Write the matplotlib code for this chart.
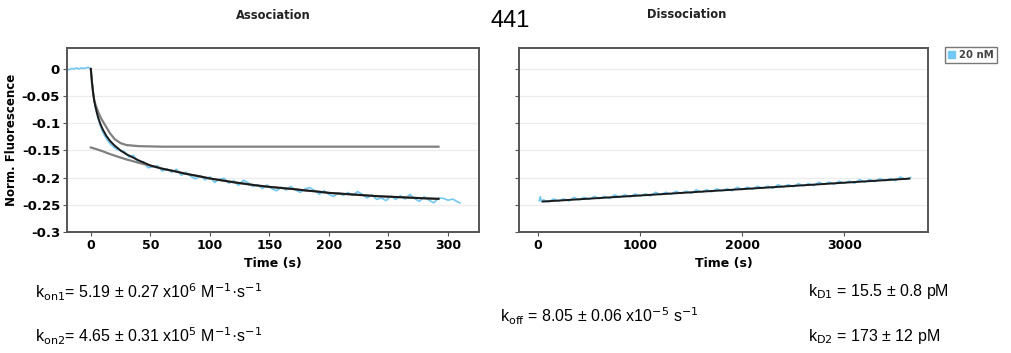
import matplotlib
matplotlib.use("Agg")
import matplotlib.pyplot as plt
from matplotlib.patches import Patch

# association: raw trace (20 nM)
assoc_t = [-20, -18, -16, -14, -12, -10, -8, -6, -4, -2, 0,
           1, 2, 3, 4, 5, 6, 7, 8, 9, 10, 12, 14, 16, 18, 20, 22, 24, 26,
           28, 32, 36, 40, 44, 48, 52, 56, 60, 64, 68, 72, 76, 80, 84, 88,
           92, 96, 100, 104, 108, 112, 116, 120, 124, 128, 132, 136, 140,
           144, 148, 152, 156, 160, 164, 168, 172, 176, 180, 184, 188, 192,
           196, 200, 204, 208, 212, 216, 220, 224, 228, 232, 236, 240, 244,
           248, 252, 256, 260, 264, 268, 272, 276, 280, 284, 288, 292, 296,
           300, 304, 308, 310]
assoc_y = [-0.002, -0.001, 0.001, 0.000, 0.002, 0.000, 0.002, 0.001, 0.002, 0.003, 0.001,
           -0.022, -0.042, -0.058, -0.071, -0.081, -0.090, -0.097, -0.104, -0.110,
           -0.116, -0.124, -0.131, -0.137, -0.141, -0.145, -0.148, -0.149, -0.152,
           -0.1515, -0.162, -0.159, -0.1725, -0.1705, -0.1817, -0.1802, -0.1781,
           -0.188, -0.1838, -0.1901, -0.1845, -0.1955, -0.190, -0.1976, -0.2022,
           -0.1964, -0.2042, -0.1985, -0.2089, -0.2028, -0.2012, -0.2101, -0.2055,
           -0.2142, -0.2049, -0.2091, -0.2163, -0.213, -0.220, -0.2135, -0.2204,
           -0.2242, -0.2175, -0.2228, -0.2161, -0.223, -0.227, -0.2205, -0.2183,
           -0.2236, -0.2305, -0.224, -0.231, -0.2346, -0.2277, -0.2328, -0.2274,
           -0.2325, -0.2256, -0.2307, -0.2373, -0.2319, -0.240, -0.2374, -0.2423,
           -0.2337, -0.2401, -0.233, -0.2394, -0.2308, -0.2387, -0.2436, -0.235,
           -0.2414, -0.2463, -0.2375, -0.238, -0.2415, -0.2395, -0.2445, -0.2465]

# association fits
fit_t = [0, 1, 2, 3, 4, 6, 8, 10, 13, 16, 20, 25, 30, 40, 50, 60, 70, 80, 90,
         100, 110, 120, 130, 140, 150, 160, 170, 180, 190, 200, 210, 220, 230,
         240, 250, 260, 270, 280, 292]
fit_total = [0.0, -0.025, -0.045, -0.060, -0.071, -0.088, -0.101, -0.111, -0.123,
             -0.132, -0.141, -0.150, -0.157, -0.168, -0.1775, -0.1835, -0.188,
             -0.193, -0.197, -0.2015, -0.205, -0.2085, -0.2115, -0.2145, -0.217,
             -0.219, -0.221, -0.2235, -0.2255, -0.228, -0.2295, -0.231, -0.2325,
             -0.234, -0.235, -0.236, -0.237, -0.238, -0.239]
fit_fast = [0.0, -0.026, -0.046, -0.059, -0.066, -0.078, -0.088, -0.096, -0.107,
            -0.118, -0.129, -0.1365, -0.140, -0.142, -0.1425, -0.143, -0.143,
            -0.143, -0.143, -0.143, -0.143, -0.143, -0.143, -0.143, -0.143,
            -0.143, -0.143, -0.143, -0.143, -0.143, -0.143, -0.143, -0.143,
            -0.143, -0.143, -0.143, -0.143, -0.143, -0.143]
fit_slow = [-0.1445, -0.145, -0.1458, -0.1465, -0.147, -0.1485, -0.150, -0.1515,
            -0.154, -0.1565, -0.1595, -0.163, -0.1665, -0.1725, -0.178, -0.1835,
            -0.188, -0.193, -0.197, -0.2015, -0.205, -0.2085, -0.2115, -0.2145,
            -0.217, -0.219, -0.221, -0.2235, -0.2255, -0.228, -0.2295, -0.231,
            -0.2325, -0.234, -0.235, -0.236, -0.237, -0.238, -0.239]

# dissociation: raw trace and fit
dis_t = [10, 20, 30, 50, 100, 150, 200, 250, 300, 350, 400, 450, 500, 550, 600,
         650, 700, 750, 800, 850, 900, 950, 1000, 1050, 1100, 1150, 1200, 1250,
         1300, 1350, 1400, 1450, 1500, 1550, 1600, 1650, 1700, 1750, 1800, 1850,
         1900, 1950, 2000, 2050, 2100, 2150, 2200, 2250, 2300, 2350, 2400, 2450,
         2500, 2550, 2600, 2650, 2700, 2750, 2800, 2850, 2900, 2950, 3000, 3050,
         3100, 3150, 3200, 3250, 3300, 3350, 3400, 3450, 3500, 3550, 3600, 3650]
dis_y = [-0.2425, -0.2350, -0.2430, -0.2409, -0.2448, -0.2392, -0.2432, -0.2391,
         -0.2430, -0.2364, -0.2408, -0.2362, -0.2401, -0.2346, -0.2385, -0.2344,
         -0.2383, -0.2317, -0.2361, -0.2315, -0.2355, -0.2299, -0.2338, -0.2297,
         -0.2336, -0.2270, -0.2314, -0.2269, -0.2308, -0.2252, -0.2291, -0.2250,
         -0.2289, -0.2223, -0.2268, -0.2222, -0.2261, -0.2205, -0.2244, -0.2203,
         -0.2242, -0.2177, -0.2221, -0.2175, -0.2214, -0.2158, -0.2197, -0.2156,
         -0.2196, -0.2130, -0.2174, -0.2128, -0.2167, -0.2111, -0.2150, -0.2110,
         -0.2149, -0.2083, -0.2127, -0.2081, -0.2120, -0.2064, -0.2103, -0.2063,
         -0.2102, -0.2036, -0.2080, -0.2034, -0.2073, -0.2017, -0.2057, -0.2016,
         -0.2055, -0.1989, -0.2033, -0.1997]
dis_fit_t = [43, 1000, 2000, 3000, 3637]
dis_fit_y = [-0.244, -0.2328, -0.2211, -0.2093, -0.2018]

y_ticks = [0, -0.05, -0.1, -0.15, -0.2, -0.25, -0.3]
y_labels = ["0", "-0.05", "-0.1", "-0.15", "-0.2", "-0.25", "-0.3"]

blue = "#72c8f2"
frame = "#555555"
tick_font = "DejaVu Sans"

plt.rcParams["mathtext.fontset"] = "custom"
plt.rcParams["mathtext.rm"] = "Liberation Sans Narrow"
plt.rcParams["mathtext.it"] = "Liberation Sans Narrow"

fig = plt.figure(figsize=(10.12, 3.53), dpi=100)
ax1 = fig.add_axes([0.0662, 0.3428, 0.4071, 0.5212])
ax2 = fig.add_axes([0.5131, 0.3428, 0.4042, 0.5212])

ax1.plot(assoc_t, assoc_y, color=blue, lw=1.2, zorder=2)
ax1.plot(fit_t, fit_fast, color="#808080", lw=1.6, zorder=3)
ax1.plot(fit_t, fit_slow, color="#808080", lw=1.6, zorder=3)
ax1.plot(fit_t, fit_total, color="#1a1a1a", lw=1.4, zorder=4)
ax1.set_xlim(-20, 326)
ax1.set_xticks([0, 50, 100, 150, 200, 250, 300])

ax2.plot(dis_t, dis_y, color=blue, lw=1.2, zorder=2)
ax2.plot(dis_fit_t, dis_fit_y, color="#1a1a1a", lw=1.4, zorder=4)
ax2.set_xlim(-186, 3823)
ax2.set_xticks([0, 1000, 2000, 3000])

for ax in (ax1, ax2):
    ax.set_ylim(-0.3, 0.0386)
    ax.set_yticks(y_ticks)
    ax.grid(axis="y", color="#ececec", lw=0.9)
    ax.set_axisbelow(True)
    for s in ax.spines.values():
        s.set_color(frame)
        s.set_linewidth(1.4)
    ax.tick_params(length=3, width=0.8, color=frame, pad=2)
    for lab in ax.get_xticklabels():
        lab.set_fontweight("bold")
        lab.set_fontsize(9)
        lab.set_family(tick_font)
    ax.set_xlabel("Time (s)", fontsize=9, fontweight="bold", labelpad=4)

ax1.set_yticklabels(y_labels, fontsize=9.5, fontweight="bold", family=tick_font)
ax2.set_yticklabels([])
ax1.set_ylabel("Norm. Fluorescence", fontsize=8.5, fontweight="bold", labelpad=3)

fig.text(0.2698, 0.955, "Association", ha="center", va="center", fontsize=8.3,
         fontweight="bold", color="#222222")
fig.text(0.679, 0.958, "Dissociation", ha="center", va="center", fontsize=8.3,
         fontweight="bold", color="#222222")
fig.text(0.5045, 0.94, "441", ha="center", va="center", fontsize=17,
         family="Liberation Sans")

leg = fig.legend(handles=[Patch(facecolor=blue, edgecolor=blue, label="20 nM")],
                 loc="upper left", bbox_to_anchor=(0.934, 0.866), frameon=True,
                 fontsize=7.3, handlelength=0.7, handleheight=0.7,
                 handletextpad=0.4, borderpad=0.3, borderaxespad=0,
                 fancybox=False, edgecolor=frame)
leg.get_frame().set_linewidth(1.0)
for t in leg.get_texts():
    t.set_color("#444444")
    t.set_fontweight("bold")

bottom_font = ["Liberation Sans Narrow", "Liberation Sans"]
fig.text(0.035, 0.173, r"k$_{\rm on1}$= 5.19 ± 0.27 x10$^{6}$ M$^{-1}$·s$^{-1}$",
         fontsize=11.5, va="center", family=bottom_font)
fig.text(0.035, 0.048, r"k$_{\rm on2}$= 4.65 ± 0.31 x10$^{5}$ M$^{-1}$·s$^{-1}$",
         fontsize=11.5, va="center", family=bottom_font)
fig.text(0.494, 0.104, r"k$_{\rm off}$ = 8.05 ± 0.06 x10$^{-5}$ s$^{-1}$",
         fontsize=11.5, va="center", family=bottom_font)
fig.text(0.798, 0.173, r"k$_{\rm D1}$ = 15.5 ± 0.8 pM",
         fontsize=11.5, va="center", family=bottom_font)
fig.text(0.798, 0.048, r"k$_{\rm D2}$ = 173 ± 12 pM",
         fontsize=11.5, va="center", family=bottom_font)

fig.savefig("out.png", dpi=100)
